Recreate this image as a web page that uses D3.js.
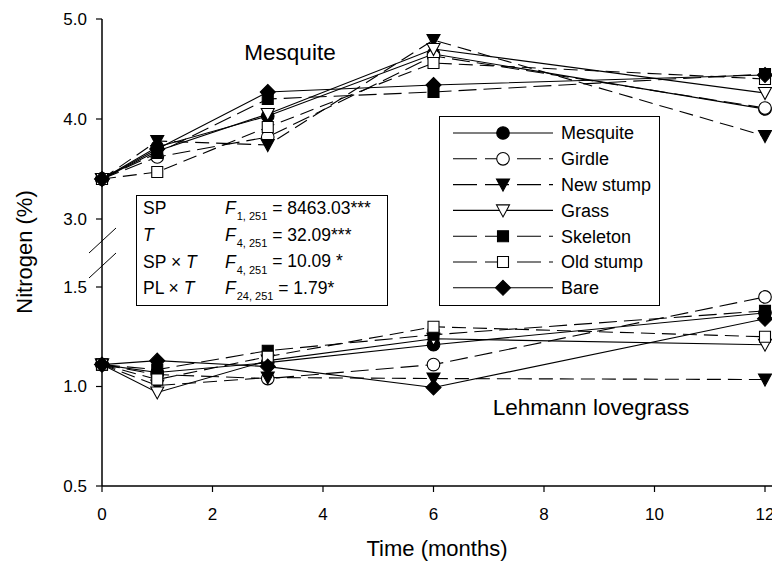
<!DOCTYPE html>
<html>
<head>
<meta charset="utf-8">
<script src="https://cdn.jsdelivr.net/npm/d3@7"></script>
<style>
  body { margin: 0; background: #fff; }
  svg text { font-family: "Liberation Sans", Arial, Helvetica, sans-serif; fill: #000; }
</style>
</head>
<body>
<svg width="772" height="562"></svg>
<script>
var months = [0, 1, 3, 6, 12];
var treatments = ["Mesquite", "Girdle", "New stump", "Grass", "Skeleton", "Old stump", "Bare"];

// nitrogen (%) under mesquite canopy
var mesquiteN = {
  "Mesquite":  [3.40, 3.72, 4.03, 4.65, 4.10],
  "Girdle":    [3.40, 3.62, 3.82, 4.63, 4.11],
  "New stump": [3.40, 3.78, 3.74, 4.79, 3.83],
  "Grass":     [3.40, 3.68, 4.05, 4.70, 4.26],
  "Skeleton":  [3.40, 3.66, 4.20, 4.27, 4.45],
  "Old stump": [3.40, 3.47, 3.92, 4.56, 4.40],
  "Bare":      [3.40, 3.70, 4.27, 4.34, 4.44]
};

// nitrogen (%) in Lehmann lovegrass
var lovegrassN = {
  "Mesquite":  [1.11, 1.07, 1.12, 1.21, 1.37],
  "Girdle":    [1.11, 1.06, 1.04, 1.11, 1.45],
  "New stump": [1.11, 1.005, 1.045, 1.04, 1.035],
  "Grass":     [1.11, 0.97, 1.13, 1.24, 1.21],
  "Skeleton":  [1.11, 1.085, 1.18, 1.26, 1.38],
  "Old stump": [1.11, 1.035, 1.15, 1.30, 1.25],
  "Bare":      [1.11, 1.13, 1.10, 0.995, 1.34]
};

var xTicks = [0, 2, 4, 6, 8, 10, 12];
var yTopTicks = [3.0, 4.0, 5.0];
var yBotTicks = [0.5, 1.0, 1.5];

var stats = [
  {term: "SP", ital: "", sub: "1, 251", val: " = 8463.03***"},
  {term: "", ital: "T", sub: "4, 251", val: " = 32.09***"},
  {term: "SP × ", ital: "T", sub: "4, 251", val: " = 10.09 *"},
  {term: "PL × ", ital: "T", sub: "24, 251", val: " = 1.79*"}
];

var style = {
  "Mesquite":  {dash: null,   shape: "circle",   fill: "#000"},
  "Girdle":    {dash: "18,7", shape: "circle",   fill: "#fff"},
  "New stump": {dash: "14,7", shape: "triangle", fill: "#000"},
  "Grass":     {dash: null,   shape: "triangle", fill: "#fff"},
  "Skeleton":  {dash: "18,7", shape: "square",   fill: "#000"},
  "Old stump": {dash: "14,7", shape: "square",   fill: "#fff"},
  "Bare":      {dash: null,   shape: "diamond",  fill: "#000"}
};

var svg = d3.select("svg");

var x = d3.scaleLinear().domain([0, 12]).range([102, 765]);
var yTop = d3.scaleLinear().domain([3, 5]).range([219, 19]);
var yBot = d3.scaleLinear().domain([0.5, 1.5]).range([486, 287]);

function markerPath(shape) {
  if (shape === "circle") return "M6.3,0A6.3,6.3 0 1,1 -6.3,0A6.3,6.3 0 1,1 6.3,0Z";
  if (shape === "triangle") return "M-6.5,-5.5L6.5,-5.5L0,6.5Z";
  if (shape === "square") return "M-5.5,-5.5L5.5,-5.5L5.5,5.5L-5.5,5.5Z";
  return "M0,-7.5L7.5,0L0,7.5L-7.5,0Z";
}

// axes
svg.append("line").attr("x1", 102).attr("x2", 102).attr("y1", 19).attr("y2", 486)
  .attr("stroke", "#000").attr("stroke-width", 1.5);
svg.append("line").attr("x1", 102).attr("x2", 772).attr("y1", 486).attr("y2", 486)
  .attr("stroke", "#000").attr("stroke-width", 1.5);

// axis break marks
[253, 278].forEach(function(y0) {
  svg.append("line").attr("x1", 89).attr("y1", y0).attr("x2", 116).attr("y2", y0 - 25)
    .attr("stroke", "#000").attr("stroke-width", 1);
});

function yTicksDraw(scale, ticks) {
  ticks.forEach(function(t) {
    svg.append("line").attr("x1", 96).attr("x2", 102).attr("y1", scale(t)).attr("y2", scale(t))
      .attr("stroke", "#000").attr("stroke-width", 1.2);
    svg.append("text").attr("x", 87).attr("y", scale(t)).attr("dy", "0.35em")
      .attr("text-anchor", "end").attr("font-size", 17).text(d3.format(".1f")(t));
  });
}
yTicksDraw(yTop, yTopTicks);
yTicksDraw(yBot, yBotTicks);

xTicks.forEach(function(t) {
  svg.append("line").attr("x1", x(t)).attr("x2", x(t)).attr("y1", 486).attr("y2", 492)
    .attr("stroke", "#000").attr("stroke-width", 1.2);
  svg.append("text").attr("x", x(t)).attr("y", 514).attr("dy", "0.35em")
    .attr("text-anchor", "middle").attr("font-size", 17).text(t);
});

svg.append("text").attr("x", 437).attr("y", 548).attr("dy", "0.35em")
  .attr("text-anchor", "middle").attr("font-size", 22).text("Time (months)");
svg.append("text").attr("transform", "translate(24,252) rotate(-90)").attr("dy", "0.35em")
  .attr("text-anchor", "middle").attr("font-size", 22).text("Nitrogen (%)");

svg.append("text").attr("x", 290).attr("y", 52).attr("dy", "0.35em")
  .attr("text-anchor", "middle").attr("font-size", 22.5).text("Mesquite");
svg.append("text").attr("x", 591).attr("y", 407).attr("dy", "0.35em")
  .attr("text-anchor", "middle").attr("font-size", 22.5).text("Lehmann lovegrass");

// series
function drawGroup(data, scale) {
  var line = d3.line().x(function(d) { return x(d[0]); }).y(function(d) { return scale(d[1]); });
  var g = svg.append("g");
  treatments.forEach(function(name) {
    var pts = months.map(function(m, i) { return [m, data[name][i]]; });
    g.append("path").attr("d", line(pts)).attr("fill", "none")
      .attr("stroke", "#000").attr("stroke-width", 1.1)
      .attr("stroke-dasharray", style[name].dash);
  });
  treatments.forEach(function(name) {
    months.forEach(function(m, i) {
      g.append("path").attr("d", markerPath(style[name].shape))
        .attr("transform", "translate(" + x(m) + "," + scale(data[name][i]) + ")")
        .attr("fill", style[name].fill).attr("stroke", "#000").attr("stroke-width", 1.1);
    });
  });
}
drawGroup(mesquiteN, yTop);
drawGroup(lovegrassN, yBot);

// stats box
var sb = svg.append("g");
sb.append("rect").attr("x", 136.5).attr("y", 195.5).attr("width", 251).attr("height", 110)
  .attr("fill", "#fff").attr("stroke", "#000").attr("stroke-width", 1);
stats.forEach(function(s, i) {
  var yy = 208 + i * 26.7;
  var t = sb.append("text").attr("x", 143).attr("y", yy).attr("dy", "0.35em").attr("font-size", 17.5);
  t.append("tspan").text(s.term);
  if (s.ital) t.append("tspan").attr("font-style", "italic").text(s.ital);
  var f = sb.append("text").attr("x", 225).attr("y", yy).attr("dy", "0.35em").attr("font-size", 17.5);
  f.append("tspan").attr("font-style", "italic").text("F");
  f.append("tspan").attr("font-size", 11).attr("dx", 1).attr("dy", "0.55em").text(s.sub);
  f.append("tspan").attr("dy", "-0.35em").text(s.val);
});

// legend
var lg = svg.append("g");
lg.append("rect").attr("x", 439.5).attr("y", 116.5).attr("width", 220).attr("height", 189)
  .attr("fill", "#fff").attr("stroke", "#000").attr("stroke-width", 1);
treatments.forEach(function(name, i) {
  var yy = 133 + i * 25.8;
  lg.append("line").attr("x1", 453).attr("x2", 553).attr("y1", yy).attr("y2", yy)
    .attr("stroke", "#000").attr("stroke-width", 1.1)
    .attr("stroke-dasharray", style[name].dash ? "24,8" : null);
  lg.append("path").attr("d", markerPath(style[name].shape))
    .attr("transform", "translate(503," + yy + ")")
    .attr("fill", style[name].fill).attr("stroke", "#000").attr("stroke-width", 1.1);
  lg.append("text").attr("x", 561).attr("y", yy).attr("dy", "0.35em")
    .attr("font-size", 18).text(name);
});
</script>
</body>
</html>
